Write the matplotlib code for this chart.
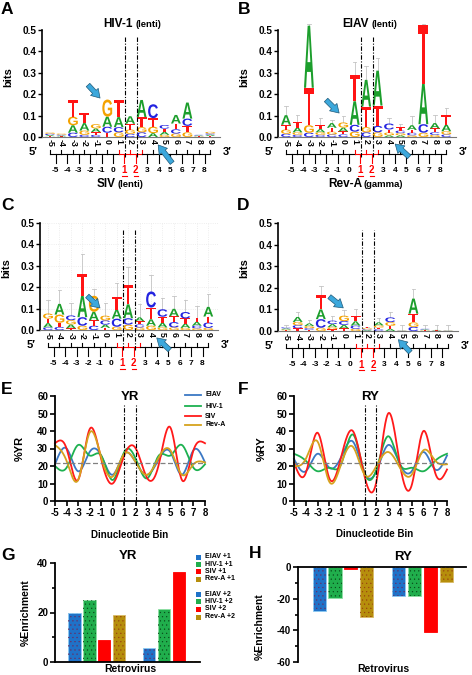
import numpy as np
import matplotlib
matplotlib.use('Agg')
import matplotlib.pyplot as plt
from matplotlib.textpath import TextPath
from matplotlib.font_manager import FontProperties
from matplotlib.patches import PathPatch, Rectangle
from matplotlib.transforms import Affine2D
from matplotlib.lines import Line2D

plt.rcParams['font.family'] = ['Liberation Sans', 'DejaVu Sans']
plt.rcParams['font.weight'] = 'bold'
plt.rcParams['axes.labelweight'] = 'bold'
plt.rcParams['axes.unicode_minus'] = False
plt.rcParams['hatch.linewidth'] = 0.35

# ---------------- data ----------------
positions = list(range(-5, 10))
bins = list(range(-5, 9))

# sequence logo letter heights (bits) at positions -5..9
hiv_A = [.005, .004, .035, .035, .017, .047, .047, .035, .08, .018, .014, .04, .075, .003, .006]
hiv_C = [.006, .004, .02, .01, .01, .028, .024, .015, .022, .065, .017, .02, .034, .003, .006]
hiv_G = [.006, .005, .04, .02, .02, .08, .022, .02, .024, .03, .01, .016, .022, .002, .007]
hiv_T = [.004, .003, .078, .045, .013, .02, .08, .027, .047, .04, .015, .027, .03, .002, .005]

eiav_A = [.045, .022, .29, .015, .022, .018, .11, .125, .163, .008, .008, .022, .19, .025, .03]
eiav_C = [.015, .01, .02, .01, .012, .012, .032, .022, .03, .028, .012, .012, .04, .012, .012]
eiav_G = [.02, .012, .035, .012, .013, .024, .025, .024, .022, .013, .01, .008, .02, .01, .015]
eiav_T = [.022, .025, .175, .018, .018, .014, .125, .096, .095, .014, .015, .013, .275, .018, .045]
eiav_err = [.145, .105, .53, .09, .08, .1, .35, .33, .37, .09, .06, .1, .53, .105, .135]

siv_A = [.02, .05, .018, .1, .04, .015, .042, .065, .018, .03, .022, .035, .02, .018, .045]
siv_C = [.012, .014, .022, .04, .02, .02, .038, .03, .014, .075, .035, .025, .03, .012, .025]
siv_G = [.024, .038, .02, .02, .075, .022, .015, .025, .012, .02, .012, .012, .01, .008, .01]
siv_T = [.021, .02, .008, .104, .025, .01, .058, .09, .015, .055, .028, .027, .024, .02, .028]
siv_err = [.14, .185, .124, .357, .19, .124, .22, .295, .12, .256, .15, .16, .14, .11, .17]

reva_A = [.005, .023, .012, .045, .014, .016, .02, .004, .014, .01, .001, .07, .003, .002, .001]
reva_C = [.005, .014, .008, .04, .016, .018, .015, .004, .008, .022, .001, .019, .003, .001, .001]
reva_G = [.004, .015, .01, .015, .01, .025, .01, .005, .01, .017, .001, .021, .002, .001, .001]
reva_T = [.003, .013, .005, .065, .008, .012, .026, .005, .008, .014, .001, .04, .002, .001, .001]
reva_err = [.03, .09, .05, .21, .07, .095, .1, .02, .06, .09, .03, .196, .03, .03, .03]

# %YR / %RY per dinucleotide bin -5..8
yr_eiav = [21, 30, 17, 28, 26, 15, 27, 22, 15, 24, 28, 15, 29, 22]
yr_hiv = [20, 19, 32, 26, 26, 12, 28, 24, 13, 26, 26, 32, 19, 21]
yr_siv = [33, 30, 12, 41, 24, 10, 26, 30, 13, 21, 42, 12, 29, 33]
yr_reva = [32, 23, 12, 39, 25, 14, 27, 22, 15, 25, 29, 15, 21, 22]

ry_eiav = [24, 17, 27, 19, 25, 34, 16, 17, 32, 21, 17, 28, 18, 26]
ry_hiv = [27, 23, 17, 19, 21, 38, 16, 18, 37, 21, 19, 17, 23, 27]
ry_siv = [22, 16, 39, 13, 25, 40, 14, 11, 50, 21, 9, 40, 16, 18]
ry_reva = [20, 24, 34, 11, 21, 31, 15, 20, 28, 19, 15, 29, 23, 21]

viruses = ['EIAV', 'HIV-1', 'SIV', 'Rev-A']
yr_plus1 = [20, 25, 9, 19]
yr_plus2 = [5.5, 21.5, 36.5, 0.3]
ry_plus1 = [-27.5, -19.5, -1, -31.5]
ry_plus2 = [-18.5, -18, -41, -9.5]

# ---------------- styles ----------------
W, H = 472, 675
letter_col = {'A': '#1c9e2c', 'C': '#2323e0', 'G': '#f4a200', 'T': '#ff1414'}
line_col = ['#3b78c4', '#1db150', '#ff1a1a', '#d6a21e']
bar_col = ['#1f72c8', '#20ae4c', '#ff0000', '#b68e0c']
bar_edge = ['#8ccaf2', '#8fe0a4', '#ff0000', '#d9bb66']
dot_col = ['#6a2a60', '#0a4a1a', '#ff0000', '#9a4010']
red = '#ff0000'

fig = plt.figure(figsize=(W / 100, H / 100), dpi=100)


def box(l, t, r, b):
    return [l / W, 1 - b / H, (r - l) / W, (b - t) / H]


def ftext(x, y, s, **kw):
    fig.text(x / W, 1 - y / H, s, **kw)


FP = FontProperties(family='Liberation Sans', weight='bold')
letter_paths = {c: TextPath((0, 0), c, size=1, prop=FP) for c in 'ACGT'}


def draw_letter(ax, c, x, y0, h, w=0.86):
    p = letter_paths[c]
    ext = p.get_extents()
    tr = Affine2D().translate(-ext.x0, -ext.y0).scale(w / ext.width, h / ext.height).translate(x - w / 2, y0)
    ax.add_patch(PathPatch(tr.transform_path(p), fc=letter_col[c], ec='none', clip_on=False, zorder=3))


def draw_logo(ax, A, C, G, T, errs=None):
    for i, pos in enumerate(positions):
        stack = sorted([(A[i], 'A'), (C[i], 'C'), (G[i], 'G'), (T[i], 'T')])
        y = 0
        for h, c in stack:
            draw_letter(ax, c, pos, y, h)
            y += h
        if errs is not None:
            ax.plot([pos, pos], [y, errs[i]], color='#c4c4c4', lw=0.6, zorder=2, clip_on=False)
            ax.plot([pos - 0.15, pos + 0.15], [errs[i]] * 2, color='#c4c4c4', lw=0.6, zorder=2, clip_on=False)


def setup_logo(ax, lab_y):
    ax.set_xlim(-5.7, 9.85)
    ax.set_ylim(0, 0.5)
    for s in ['top', 'right']:
        ax.spines[s].set_visible(False)
    ax.spines['left'].set_linewidth(1.2)
    ax.spines['bottom'].set_linewidth(0.8)
    ax.spines['bottom'].set_color('#777777')
    ax.set_yticks(np.arange(0, 0.51, 0.1))
    ax.set_yticklabels(['0.0', '0.1', '0.2', '0.3', '0.4', '0.5'])
    ax.set_xticks(positions)
    ax.set_xticklabels([str(p) for p in positions], rotation=270, fontsize=6.3)
    ax.tick_params(axis='x', length=0, pad=1.5)
    ax.tick_params(axis='y', length=3, width=1, labelsize=7.2, pad=1)
    ax.set_ylabel('bits', fontsize=8)
    ax.yaxis.set_label_coords(-0.16, lab_y)

    # dinucleotide brackets below the logo
    yt, yh, yd, yl = -0.061, -0.079, -0.121, -0.156
    for p in positions:
        ax.plot([p, p], [yt, yh], color=red if 1 <= p <= 3 else 'k', lw=0.8, clip_on=False)
    for k in bins:
        c = red if k in (1, 2) else 'k'
        ax.plot([k, k + 1], [yh, yh], color=c, lw=0.8, clip_on=False)
        ax.plot([k + 0.5, k + 0.5], [yh, yd], color=c, lw=0.8, clip_on=False)
        ax.text(k + 0.5, yl, str(k), ha='center', va='center', color=c,
                fontsize=7 if k in (1, 2) else 6)
        if k in (1, 2):
            ax.plot([k + 0.3, k + 0.7], [yl - 0.024] * 2, color=red, lw=0.8, clip_on=False)
    ax.text(-6.5, -0.07, '5\u2032', ha='center', va='center', fontsize=8)
    ax.text(10.5, -0.07, '3\u2032', ha='center', va='center', fontsize=8)
    for xv in (1.55, 2.6):
        ax.plot([xv, xv], [-0.095, 0.467], color='k', ls=(0, (4, 1.5, 1, 1.5)), lw=0.8, clip_on=False, zorder=4)


def arrow(ax, tail, head):
    ax.annotate('', xy=head, xytext=tail, annotation_clip=False,
                arrowprops=dict(arrowstyle='simple,head_width=0.75,head_length=0.6,tail_width=0.35',
                                fc='#3ca8dc', ec='#1e5a7a', lw=0.5, shrinkA=0, shrinkB=0), zorder=5)


# ---------------- logos ----------------
axA = fig.add_axes(box(42, 30, 220, 137))
setup_logo(axA, 0.56)
draw_logo(axA, hiv_A, hiv_C, hiv_G, hiv_T)
arrow(axA, (-1.68, 0.243), (-0.63, 0.182))
arrow(axA, (5.67, -0.121), (4.45, -0.037))

axB = fig.add_axes(box(278, 30, 456, 137))
setup_logo(axB, 0.56)
draw_logo(axB, eiav_A, eiav_C, eiav_G, eiav_T, eiav_err)
arrow(axB, (-1.5, 0.173), (-0.36, 0.112))
arrow(axB, (5.76, -0.093), (4.54, -0.033))

axC = fig.add_axes(box(40, 223, 218, 330))
setup_logo(axC, 0.58)
axC.grid(True, color='#e8e8e8', ls=':', lw=0.6)
axC.set_axisbelow(True)
draw_logo(axC, siv_A, siv_C, siv_G, siv_T, siv_err)
arrow(axC, (-1.57, 0.159), (-0.46, 0.103))
arrow(axC, (5.63, -0.093), (4.5, -0.037))

axD = fig.add_axes(box(278, 223, 458, 331))
setup_logo(axD, 0.58)
draw_logo(axD, reva_A, reva_C, reva_G, reva_T, reva_err)
arrow(axD, (-1.26, 0.159), (-0.06, 0.107))
arrow(axD, (5.73, -0.098), (4.7, -0.04))

ftext(133, 24, 'HIV-1', ha='right', va='center', fontsize=8.5)
ftext(135, 24.5, '(lenti)', ha='left', va='center', fontsize=6.8)
ftext(369, 24, 'EIAV', ha='right', va='center', fontsize=8.5)
ftext(371, 24.5, '(lenti)', ha='left', va='center', fontsize=6.8)
ftext(116, 184, 'SIV', ha='right', va='center', fontsize=8.5)
ftext(118, 184.5, '(lenti)', ha='left', va='center', fontsize=6.8)
ftext(362, 184, 'Rev-A', ha='right', va='center', fontsize=8.5)
ftext(364, 184.5, '(gamma)', ha='left', va='center', fontsize=6.8)

for lab, x, y in [('A', 7, 9), ('B', 244, 10), ('C', 7, 206), ('D', 243, 206),
                  ('E', 7, 389), ('F', 243, 389), ('G', 8, 556), ('H', 255, 553)]:
    ftext(x, y, lab, ha='center', va='center', fontsize=12.5)


# ---------------- smooth line panels ----------------
def smooth(xs, ys, n=400):
    x = np.asarray(xs, float)
    y = np.asarray(ys, float)
    m = len(x)
    h = np.diff(x)
    A = np.zeros((m, m))
    r = np.zeros(m)
    A[0, 0] = A[-1, -1] = 1
    for i in range(1, m - 1):
        A[i, i - 1] = h[i - 1]
        A[i, i] = 2 * (h[i - 1] + h[i])
        A[i, i + 1] = h[i]
        r[i] = 6 * ((y[i + 1] - y[i]) / h[i] - (y[i] - y[i - 1]) / h[i - 1])
    M = np.linalg.solve(A, r)
    xf = np.linspace(x[0], x[-1], n)
    idx = np.clip(np.searchsorted(x, xf) - 1, 0, m - 2)
    x0, x1 = x[idx], x[idx + 1]
    hh = x1 - x0
    a = (x1 - xf) / hh
    b = (xf - x0) / hh
    yf = a * y[idx] + b * y[idx + 1] + ((a ** 3 - a) * M[idx] + (b ** 3 - b) * M[idx + 1]) * hh ** 2 / 6
    return xf, yf


def line_panel(ax, series, title, ylabel, lab_x):
    for vals, c in zip(series, line_col):
        xf, yf = smooth(bins, vals)
        ax.plot(xf, yf, color=c, lw=1.3, clip_on=False)
    ax.axhline(22, color='#808080', ls=(0, (4, 2)), lw=0.9)
    for xv in (1, 2):
        ax.plot([xv, xv], [0, 55], color='k', ls=(0, (4, 1.5, 1, 1.5)), lw=0.8)
    ax.text(1.5, 59.3, title, ha='center', va='center', fontsize=9.5)
    ax.set_xlim(-5, 8)
    ax.set_ylim(0, 60)
    ax.set_xticks(bins)
    ax.set_yticks(range(0, 61, 10))
    for s in ['top', 'right']:
        ax.spines[s].set_visible(False)
    for s in ['left', 'bottom']:
        ax.spines[s].set_linewidth(1.3)
    ax.tick_params(length=3.5, width=1.2, labelsize=7, pad=1.5)
    ax.set_ylabel(ylabel, fontsize=8)
    ax.yaxis.set_label_coords(lab_x, 0.5)


axE = fig.add_axes(box(55, 396, 205, 501))
line_panel(axE, [yr_eiav, yr_hiv, yr_siv, yr_reva], 'YR', '%YR', -0.2)
axF = fig.add_axes(box(294, 396, 447, 501))
line_panel(axF, [ry_eiav, ry_hiv, ry_siv, ry_reva], 'RY', '%RY', -0.18)

ftext(130, 535, 'Dinucleotide Bin', ha='center', va='center', fontsize=7)
ftext(375, 534, 'Dinucleotide Bin', ha='center', va='center', fontsize=7)

for name, c, y in zip(viruses, line_col, [395, 406, 416, 425]):
    fig.add_artist(Line2D([185 / W, 201 / W], [1 - y / H] * 2, color=c, lw=1.3))
    ftext(205, y, name, ha='left', va='center', fontsize=5)

# ---------------- bar panels ----------------
slots1 = [0, 1, 2, 3]
slots2 = [5, 6, 7, 8]


def bar_panel(ax, v1, v2):
    for xs, vals in ((slots1, v1), (slots2, v2)):
        for x, v, fc, ec, dc in zip(xs, vals, bar_col, bar_edge, dot_col):
            ax.bar(x, v, width=0.82, color=fc, edgecolor=ec, lw=0.6, zorder=2)
            if fc != red:
                ax.bar(x, v, width=0.82, color='none', edgecolor=dc, hatch='....', lw=0, zorder=3)
    for s in ['top', 'right']:
        ax.spines[s].set_visible(False)
    for s in ['left', 'bottom']:
        ax.spines[s].set_linewidth(1.3)
    ax.set_xticks([])
    ax.tick_params(axis='y', length=3.5, width=1.2, labelsize=7, pad=1.5)
    ax.tick_params(axis='y', which='minor', length=2.5, width=1.2)


axG = fig.add_axes(box(55, 563, 200, 662))
bar_panel(axG, yr_plus1, yr_plus2)
axG.set_xlim(-1.3, 8.4)
axG.set_ylim(0, 40)
axG.set_yticks([0, 20, 40])
axG.set_yticks([10, 30], minor=True)
axG.set_ylabel('%Enrichment', fontsize=7.5)
axG.yaxis.set_label_coords(-0.165, 0.5)
axG.text(3.6, 43, 'YR', ha='center', va='center', fontsize=9.5)

axH = fig.add_axes(box(298, 567, 466, 662))
bar_panel(axH, ry_plus1, ry_plus2)
axH.spines['bottom'].set_visible(False)
axH.spines['top'].set_visible(True)
axH.spines['top'].set_linewidth(1.3)
axH.set_xlim(-1.32, 9.22)
axH.set_ylim(-60, 0)
axH.set_yticks([0, -20, -40, -60])
axH.set_yticks([-10, -30, -50], minor=True)
axH.set_ylabel('%Enrichment', fontsize=7.5)
axH.yaxis.set_label_coords(-0.196, 0.37)
axH.text(5.3, 6, 'RY', ha='center', va='center', fontsize=9.5)

ftext(130, 669, 'Retrovirus', ha='center', va='center', fontsize=7.5)
ftext(383, 669, 'Retrovirus', ha='center', va='center', fontsize=7.5)

legend_y = [557, 564, 571.5, 579, 594, 601.5, 609, 617]
legend_lab = [v + ' +1' for v in viruses] + [v + ' +2' for v in viruses]
for i, (y, lab) in enumerate(zip(legend_y, legend_lab)):
    fig.add_artist(Rectangle((196 / W, 1 - (y + 2.5) / H), 5 / W, 5 / H,
                             transform=fig.transFigure, fc=bar_col[i % 4], ec='none'))
    ftext(205, y, lab, ha='left', va='center', fontsize=5)

fig.savefig('out.png', dpi=100)
